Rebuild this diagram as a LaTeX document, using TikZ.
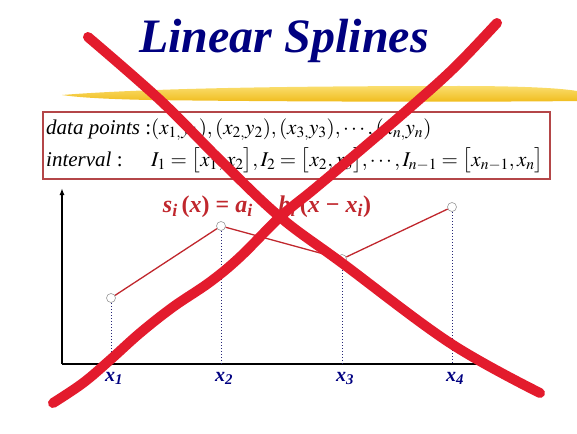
\documentclass[tikz,border=0pt]{standalone}
\usepackage{mathptmx}
\usepackage[no-math]{fontspec}
\setmainfont{Liberation Serif}
\usepackage{xcolor}
\usetikzlibrary{arrows.meta,positioning,calc}
\definecolor{titleblue}{RGB}{0,0,128}
\definecolor{splinered}{RGB}{192,39,45}
\definecolor{boxred}{RGB}{180,70,72}
\definecolor{crossred}{RGB}{227,27,45}
\definecolor{brushyellow}{RGB}{240,188,28}
\definecolor{brushlight}{RGB}{250,222,110}
\definecolor{dotblue}{RGB}{40,40,120}
\newcommand{\bx}[1]{\textbf{\textit{x}}\textsubscript{\textbf{\textit{#1}}}}
\newcommand{\bsub}[2]{\textbf{\textit{#1}}\textsubscript{\textbf{\textit{#2}}}}

\begin{document}
\begin{tikzpicture}[x=1pt,y=-1pt,
  knot/.style={circle,draw=gray!80,fill=white,inner sep=0pt,minimum size=9pt,line width=0.6pt},
  spline/.style={splinered,line width=1.3pt},
  drop/.style={dotblue,dotted,line width=1pt},
  axis/.style={black,line width=1.6pt},
  boxtxt/.style={anchor=base west,inner sep=0pt,font=\fontsize{21}{25}\selectfont},
  xlab/.style={text=titleblue,font=\fontsize{20}{20}\selectfont},
  cross/.style={crossred,line width=10pt,line cap=round,line join=round}]
  \useasboundingbox (0,0) rectangle (577,433);

  % Title and brush stroke
  \shade[top color=brushlight,bottom color=brushyellow]
    (62,95) .. controls (150,88) and (300,86) .. (460,86)
    .. controls (520,86) and (560,88) .. (577,91) -- (577,101)
    .. controls (500,102) and (300,102) .. (150,100)
    .. controls (100,99) and (75,97) .. (62,95) -- cycle;
  \node[anchor=base,text=titleblue,font=\fontsize{48}{48}\selectfont\bfseries\itshape]
    (title) at (284,53) {Linear Splines};

  % Data box
  \draw[boxred,line width=1.2pt] (43,112) rectangle (550,179);
  \node[boxtxt] (dp) at (46,134)
    {\textit{data points} :$(x_{1,}y_1), (x_{2,}y_2), (x_{3,}y_3), \cdots, (x_{n,}y_n)$};
  \node[boxtxt] (iv) at (46,166) {\textit{interval} :};
  \node[boxtxt] (ivs) at (151,166)
    {$I_1=\bigl[x_1, x_2\bigr], I_2=\bigl[x_2, x_3\bigr], \cdots, I_{n-1}=\bigl[x_{n-1}, x_n\bigr]$};

  % Formula
  \node[anchor=base,text=splinered,font=\fontsize{24}{24}\selectfont] (sform) at (267,212)
    {\bsub{s}{i}\,\textbf{(}\textbf{\textit{x}}\textbf{)} \textbf{=} \bsub{a}{i} \textbf{+} \bsub{b}{i}\,\textbf{(}\textbf{\textit{x}} \textbf{−} \bsub{x}{i}\textbf{)}};

  % Axes
  \coordinate (o) at (62,364);
  \coordinate (ytop) at (62,188);
  \coordinate (xend) at (488,364);
  \draw[axis,-{Latex[length=7pt,width=5pt]}] (o) -- (ytop);
  \draw[axis] (o) -- (xend);

  % Knots
  \node[knot] (p1) at (111,298) {};
  \node[knot] (p2) at (221,226) {};
  \node[knot] (p3) at (342,259) {};
  \node[knot] (p4) at (452,207) {};
  \draw[spline] (p1) -- (p2) -- (p3) -- (p4);

  % Drop lines and labels
  \foreach \i in {1,2,3,4} {
    \draw[drop] (p\i.south) -- (p\i |- o);
    \node[xlab,below=5pt] (l\i) at ($(p\i |- o)+(3,0)$) {\bx{\i}};
  }

  % Cross
  \draw[cross] plot[smooth,tension=0.6] coordinates {(88,37) (160,100) (220,160) (280,217) (342,263) (450,343) (540,393)};
  \draw[cross] plot[smooth,tension=0.6] coordinates {(497,23) (455,67) (413,105) (363,148) (313,190) (280,217) (240,257) (210,282) (173,307) (140,333) (110,360) (83,383) (53,403)};
\end{tikzpicture}
\end{document}
